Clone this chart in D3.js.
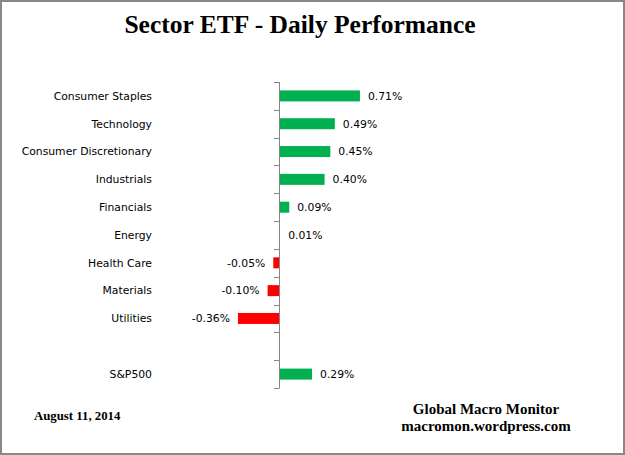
<!DOCTYPE html>
<html>
<head>
<meta charset="utf-8">
<script src="https://cdn.jsdelivr.net/npm/d3@7"></script>
<style>
  body { margin: 0; background: #fff; }
  svg text { fill: #000; }
  .cat { font-family: "DejaVu Sans", sans-serif; font-size: 10.8px; }
  .val { font-family: "DejaVu Sans", sans-serif; font-size: 10.8px; }
  .title { font-family: "Liberation Serif", serif; font-weight: bold; font-size: 25.5px; }
  .foot { font-family: "Liberation Serif", serif; font-weight: bold; font-size: 15px; }
  .date { font-family: "Liberation Serif", serif; font-weight: bold; font-size: 12.8px; }
</style>
</head>
<body>
<svg width="625" height="455"></svg>
<script>
var categories = ["Consumer Staples", "Technology", "Consumer Discretionary", "Industrials",
                  "Financials", "Energy", "Health Care", "Materials", "Utilities", "", "S&P500"];
var values = [0.71, 0.49, 0.45, 0.40, 0.09, 0.01, -0.05, -0.10, -0.36, null, 0.29];

var svg = d3.select("svg");

svg.append("rect")
    .attr("x", 1).attr("y", 1)
    .attr("width", 623).attr("height", 453)
    .attr("fill", "#fff")
    .attr("stroke", "#888")
    .attr("stroke-width", 2);

svg.append("text")
    .attr("class", "title")
    .attr("x", 300).attr("y", 33)
    .attr("text-anchor", "middle")
    .text("Sector ETF - Daily Performance");

var data = categories.map(function(c, i) { return {key: i, name: c, value: values[i]}; });

var x = d3.scaleLinear()
    .domain([-0.4, 0.8])
    .range([279 - 0.4 * 114, 279 + 0.8 * 114]);

var band = d3.scaleBand()
    .domain(data.map(function(d) { return d.key; }))
    .range([82, 388]);

var fmt = function(v) { return d3.format(".2f")(v).replace("\u2212", "-") + "%"; };

// bars
svg.append("g").selectAll("rect")
    .data(data.filter(function(d) { return d.value !== null && Math.abs(d.value) > 0.02; }))
  .enter().append("rect")
    .attr("x", function(d) { return d.value > 0 ? x(0) + 1 : x(d.value); })
    .attr("y", function(d) { return band(d.key) + band.bandwidth() / 2 - 5.5; })
    .attr("width", function(d) { return Math.abs(x(d.value) - x(0)) - (d.value > 0 ? 1 : 0); })
    .attr("height", 11)
    .attr("fill", function(d) { return d.value >= 0 ? "#00b050" : "#ff0000"; });

// axis at zero (ticks on band boundaries)
var ax = svg.append("g").attr("stroke", "#868686").attr("stroke-width", 1);
ax.append("line")
    .attr("x1", x(0) + 0.5).attr("x2", x(0) + 0.5)
    .attr("y1", 82).attr("y2", 388);
ax.selectAll(".tk")
    .data(d3.range(categories.length + 1))
  .enter().append("line")
    .attr("x1", x(0) - 5).attr("x2", x(0) + 0.5)
    .attr("y1", function(i) { return Math.round(82 + i * band.step()) + 0.5; })
    .attr("y2", function(i) { return Math.round(82 + i * band.step()) + 0.5; });

// category labels
svg.append("g").selectAll("text")
    .data(data)
  .enter().append("text")
    .attr("class", "cat")
    .attr("x", 152)
    .attr("y", function(d) { return band(d.key) + band.bandwidth() / 2; })
    .attr("dy", "0.35em")
    .attr("text-anchor", "end")
    .text(function(d) { return d.name; });

// value labels
svg.append("g").selectAll("text")
    .data(data.filter(function(d) { return d.value !== null; }))
  .enter().append("text")
    .attr("class", "val")
    .attr("x", function(d) { return d.value >= 0 ? x(d.value) + 8 : x(d.value) - 8; })
    .attr("y", function(d) { return band(d.key) + band.bandwidth() / 2; })
    .attr("dy", "0.35em")
    .attr("text-anchor", function(d) { return d.value >= 0 ? "start" : "end"; })
    .text(function(d) { return fmt(d.value); });

// footer
svg.append("text").attr("class", "date")
    .attr("x", 34).attr("y", 420)
    .text("August 11, 2014");
svg.append("text").attr("class", "foot")
    .attr("x", 486).attr("y", 414).attr("text-anchor", "middle")
    .text("Global Macro Monitor");
svg.append("text").attr("class", "foot")
    .attr("x", 486).attr("y", 431).attr("text-anchor", "middle")
    .text("macromon.wordpress.com");
</script>
</body>
</html>
